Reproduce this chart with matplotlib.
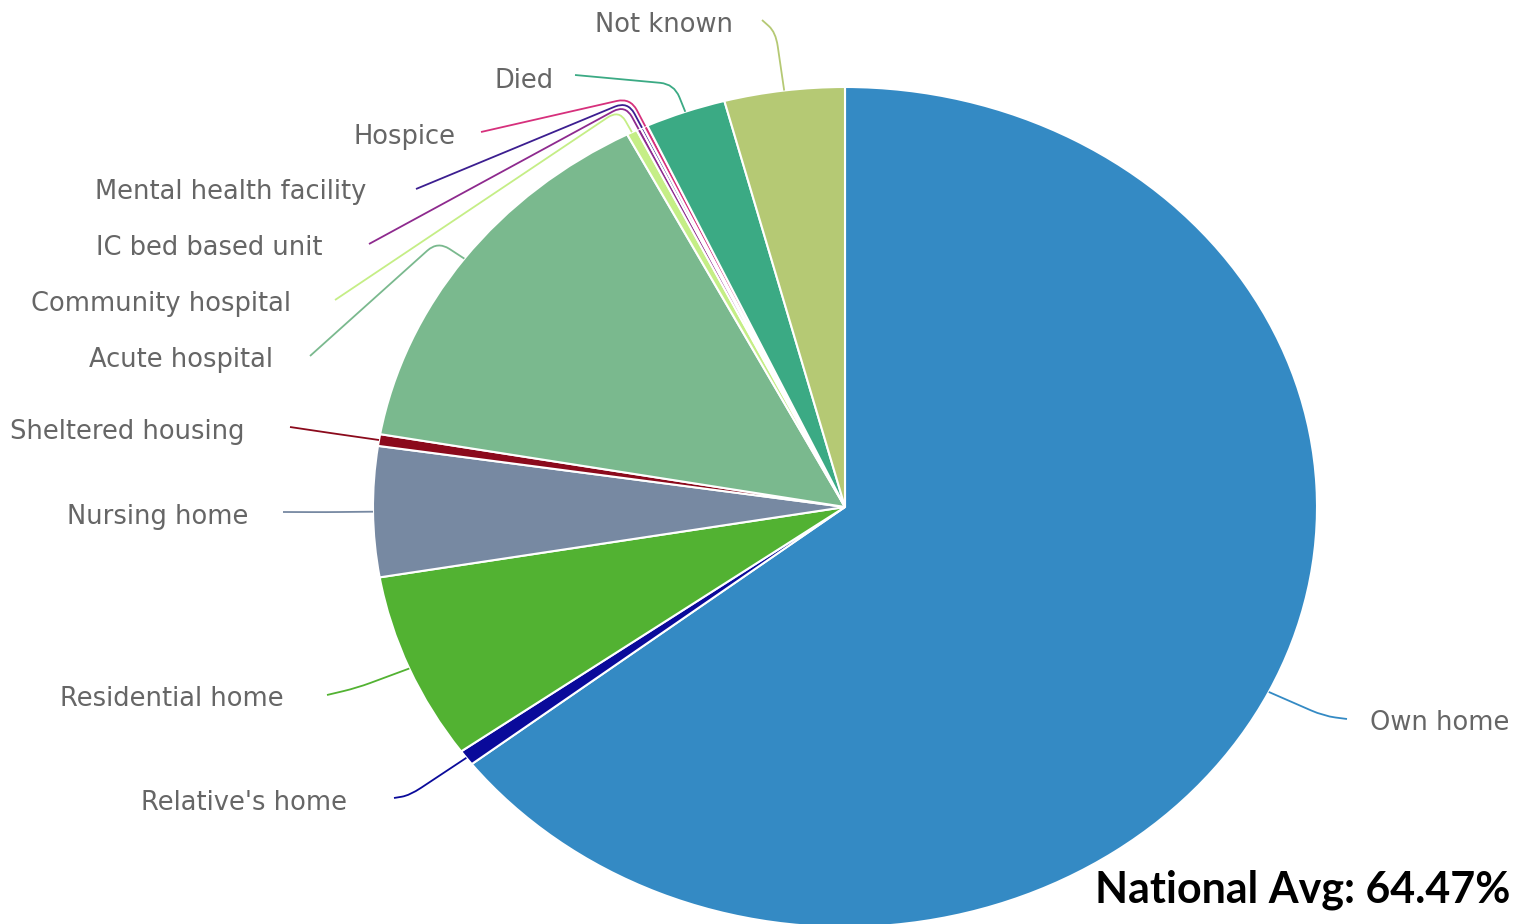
import numpy as np
import matplotlib.pyplot as plt
from matplotlib.path import Path
from matplotlib.patches import PathPatch

# slice data, clockwise from 12 o'clock
labels = ['Own home', "Relative's home", 'Residential home', 'Nursing home',
          'Sheltered housing', 'Acute hospital', 'Community hospital',
          'IC bed based unit', 'Mental health facility', 'Hospice', 'Died',
          'Not known']
values = [64.47, 0.6, 7.2, 5.0, 0.45, 14.58, 0.36, 0.15, 0.1, 0.15, 2.76, 4.11]
colors = ['#348AC4', '#0A0A9A', '#52B232', '#7789A2', '#8B0A1C', '#7AB98E',
          '#C5EE86', '#8E2A8E', '#3C1E90', '#D6307C', '#3BAA84', '#B5C974']
national_avg = 64.47

W, H = 1514, 924
cx, cy, rx, ry = 845, 507, 472, 420   # pie centre / radii in pixels

# label layout: text anchor (px), connector start (px), bend offset
text_pos = [(1370, 723, 'left'), (347, 803, 'right'), (284, 699, 'right'),
            (248, 517, 'right'), (245, 432, 'right'), (273, 360, 'right'),
            (291, 304, 'right'), (322, 248, 'right'), (366, 192, 'right'),
            (455, 137, 'right'), (554, 81, 'right'), (733, 25, 'right')]
conn_start = [(1347, 719), (394, 798), (327, 695), (283, 512), (290, 427),
              (310, 356), (335, 300), (369, 244), (416, 189), (481, 132),
              (575, 75), (762, 20)]
bend_k = [0.13, 0.15, 0.12, 0.1, 0.1, 0.07, 0.06, 0.065, 0.07, 0.075, 0.07, 0.14]

fig = plt.figure(figsize=(W / 100, H / 100), dpi=100)
ax = fig.add_axes([0, 0, 1, 1])
ax.pie(values, colors=colors, startangle=90, counterclock=False, radius=1,
       wedgeprops=dict(edgecolor='white', linewidth=1.5))
ax.set_aspect('auto')
ax.set_xlim(-cx / rx, (W - cx) / rx)
ax.set_ylim((cy - H) / ry, cy / ry)
ax.axis('off')

# overlay in pixel coordinates for labels and connectors
ov = fig.add_axes([0, 0, 1, 1])
ov.set_xlim(0, W)
ov.set_ylim(H, 0)
ov.axis('off')
ov.patch.set_alpha(0)


def connector(p0, p1, p2, r=14):
    p0, p1, p2 = map(np.array, (p0, p1, p2))
    u1 = (p1 - p0) / max(np.linalg.norm(p1 - p0), 1e-6)
    u2 = (p2 - p1) / max(np.linalg.norm(p2 - p1), 1e-6)
    r1 = min(r, np.linalg.norm(p1 - p0) * 0.5)
    r2 = min(r, np.linalg.norm(p2 - p1) * 0.5)
    verts = [p0, p1 - r1 * u1, p1, p1 + r2 * u2, p2]
    codes = [Path.MOVETO, Path.LINETO, Path.CURVE3, Path.CURVE3, Path.LINETO]
    return Path(verts, codes)


total = sum(values)
cum = np.cumsum([0] + values[:-1])
for i, lab in enumerate(labels):
    theta = 360 * (cum[i] + values[i] / 2) / total
    phi = np.radians(90 - theta)
    edge = (cx + rx * np.cos(phi), cy - ry * np.sin(phi))
    k = 1 + bend_k[i]
    bend = (cx + rx * k * np.cos(phi), cy - ry * k * np.sin(phi))
    ov.add_patch(PathPatch(connector(conn_start[i], bend, edge), fill=False,
                           edgecolor=colors[i], linewidth=1.3))
    tx, ty, ha = text_pos[i]
    ov.text(tx, ty, lab, ha=ha, va='center', fontsize=18.5, color='#666666',
            family='DejaVu Sans')

ov.text(1095, 903, f'National Avg: {national_avg:.2f}%', ha='left',
        va='baseline', fontsize=31, fontweight='bold', color='black',
        family='Lato')

fig.savefig('out.png', dpi=100)
